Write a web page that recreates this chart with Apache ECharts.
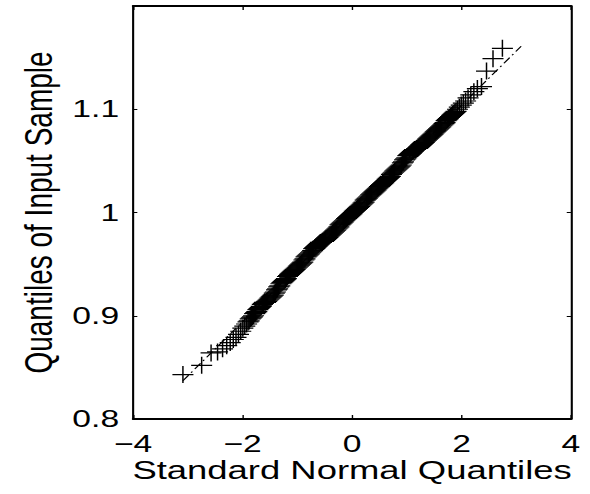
<!DOCTYPE html>
<html><head><meta charset="utf-8">
<script src="https://cdn.jsdelivr.net/npm/echarts@6/dist/echarts.min.js"></script>
<style>
html,body{margin:0;padding:0;background:#fff;overflow:hidden;}
#wrap{width:590px;height:494px;overflow:hidden;position:relative;background:#fff;}
#chart{width:421px;height:494px;transform:scaleX(1.40143);transform-origin:0 0;}
</style></head><body>
<div id="wrap"><div id="chart"></div></div>
<script>
// Standard normal quantiles (x) of the sorted sample
const quantX = [
-3.0902,-2.7478,-2.5758,-2.4573,-2.3656,-2.2904,-2.2262,-2.1701,-2.1201,-2.0749,
-2.0335,-1.9954,-1.9600,-1.9268,
-1.90,-1.88,-1.86,-1.84,-1.82,-1.80,-1.78,-1.76,-1.74,-1.72,
-1.70,-1.68,-1.66,-1.64,-1.62,-1.60,-1.58,-1.56,-1.54,-1.52,
-1.50,-1.48,-1.46,-1.44,-1.42,-1.40,-1.38,-1.36,-1.34,-1.32,
-1.30,-1.28,-1.26,-1.24,-1.22,-1.20,-1.18,-1.16,-1.14,-1.12,
-1.10,-1.08,-1.06,-1.04,-1.02,-1.00,-0.98,-0.96,-0.94,-0.92,
-0.90,-0.88,-0.86,-0.84,-0.82,-0.80,-0.78,-0.76,-0.74,-0.72,
-0.70,-0.68,-0.66,-0.64,-0.62,-0.60,-0.58,-0.56,-0.54,-0.52,
-0.50,-0.48,-0.46,-0.44,-0.42,-0.40,-0.38,-0.36,-0.34,-0.32,
-0.30,-0.28,-0.26,-0.24,-0.22,-0.20,-0.18,-0.16,-0.14,-0.12,
-0.10,-0.08,-0.06,-0.04,-0.02,0.00,0.02,0.04,0.06,0.08,
0.10,0.12,0.14,0.16,0.18,0.20,0.22,0.24,0.26,0.28,
0.30,0.32,0.34,0.36,0.38,0.40,0.42,0.44,0.46,0.48,
0.50,0.52,0.54,0.56,0.58,0.60,0.62,0.64,0.66,0.68,
0.70,0.72,0.74,0.76,0.78,0.80,0.82,0.84,0.86,0.88,
0.90,0.92,0.94,0.96,0.98,1.00,1.02,1.04,1.06,1.08,
1.10,1.12,1.14,1.16,1.18,1.20,1.22,1.24,1.26,1.28,
1.30,1.32,1.34,1.36,1.38,1.40,1.42,1.44,1.46,1.48,
1.50,1.52,1.54,1.56,1.58,1.60,1.62,1.64,1.66,1.68,
1.70,1.72,1.74,1.76,1.78,1.80,1.82,1.84,1.86,1.88,
1.90,
1.9268,1.9600,1.9954,2.0335,2.0749,2.1201,2.1701,2.2262,2.2904,2.3656,
2.4573,2.5758,2.7478
];
// Quantiles of the input sample (y)
const sampleY = [
0.843,0.852,0.864,0.865,0.868,0.871,0.874,0.877,0.879,0.882,
0.885,0.888,0.890,0.892,
0.894,0.895,0.897,0.898,0.899,0.900,0.902,0.903,0.904,0.906,
0.907,0.908,0.909,0.911,0.912,0.913,0.913,0.914,0.915,0.916,
0.917,0.918,0.919,0.920,0.922,0.923,0.925,0.926,0.928,0.929,
0.931,0.932,0.933,0.934,0.935,0.936,0.938,0.939,0.940,0.941,
0.942,0.943,0.944,0.945,0.946,0.947,0.948,0.949,0.950,0.951,
0.952,0.954,0.955,0.957,0.958,0.959,0.960,0.961,0.962,0.963,
0.965,0.966,0.967,0.968,0.969,0.970,0.971,0.971,0.972,0.972,
0.973,0.974,0.975,0.976,0.977,0.978,0.979,0.980,0.981,0.982,
0.983,0.984,0.985,0.986,0.988,0.989,0.990,0.991,0.992,0.993,
0.994,0.995,0.996,0.997,0.998,0.999,1.000,1.001,1.002,1.003,
1.004,1.005,1.006,1.007,1.008,1.009,1.010,1.012,1.013,1.014,
1.015,1.016,1.017,1.018,1.019,1.020,1.021,1.022,1.023,1.024,
1.025,1.026,1.027,1.028,1.029,1.030,1.031,1.032,1.033,1.034,
1.035,1.037,1.038,1.039,1.040,1.041,1.042,1.043,1.044,1.045,
1.046,1.048,1.049,1.051,1.052,1.053,1.055,1.056,1.057,1.058,
1.059,1.060,1.061,1.061,1.062,1.062,1.063,1.064,1.065,1.066,
1.067,1.068,1.069,1.070,1.071,1.072,1.073,1.074,1.075,1.076,
1.077,1.078,1.079,1.080,1.081,1.082,1.083,1.084,1.085,1.086,
1.087,1.089,1.090,1.091,1.092,1.093,1.094,1.095,1.096,1.097,
1.098,
1.100,1.102,1.104,1.106,1.108,1.111,1.114,1.117,1.120,1.122,
1.137,1.149,1.159
];
// Reference line end points
const refX = [-3.0902, 3.0902];
const refY = [0.837, 1.161];
// Tick values and labels
const xTickValues = [-4, -2, 0, 2, 4];
const xTickLabels = ['\u22124', '\u22122', '0', '2', '4'];
const yTickValues = [0.8, 0.9, 1.0, 1.1];
const yTickLabels = ['0.8', '0.9', '1', '1.1'];

const FONT = "'Liberation Sans', Arial, Helvetica, sans-serif";
function labelFor(values, labels) {
  return function (v) {
    for (let i = 0; i < values.length; i++) {
      if (Math.abs(values[i] - v) < 1e-6) return labels[i];
    }
    return '';
  };
}
const cross = 'path://M0,9.3h20v1.4h-20z M9.3,0h1.4v20h-1.4z';

const chart = echarts.init(document.getElementById('chart'), null, {renderer: 'svg'});
const axisLineX = {show: true, onZero: false, lineStyle: {color: '#000', width: 2}};
const axisLineY = {show: true, onZero: false, lineStyle: {color: '#000', width: 1.5}};
chart.setOption({
  animation: false,
  backgroundColor: '#fff',
  grid: {left: 95, right: 13.6, top: 6, bottom: 75, containLabel: false, outerBoundsMode: 'none'},
  xAxis: [{
    type: 'value', position: 'bottom', min: -4, max: 4, interval: 2,
    axisLine: axisLineX,
    axisTick: {show: true, inside: true, length: 4, lineStyle: {color: '#000', width: 1}},
    axisLabel: {formatter: labelFor(xTickValues, xTickLabels), fontSize: 24, margin: 13, color: '#000', fontFamily: FONT},
    splitLine: {show: false},
    name: 'Standard Normal Quantiles', nameLocation: 'middle', nameGap: 38, nameMoveOverlap: false,
    nameTextStyle: {fontSize: 26, color: '#000', fontFamily: FONT}
  }, {
    type: 'value', position: 'top', min: -4, max: 4, interval: 2,
    axisLine: axisLineX,
    axisTick: {show: true, inside: true, length: 4, lineStyle: {color: '#000', width: 1}},
    axisLabel: {show: false}, splitLine: {show: false}
  }],
  yAxis: [{
    type: 'value', position: 'left', min: 0.8, max: 1.2, interval: 0.1,
    axisLine: axisLineY,
    axisTick: {show: true, inside: true, length: 3, lineStyle: {color: '#000', width: 1}},
    axisLabel: {formatter: labelFor(yTickValues, yTickLabels), fontSize: 24, margin: 10, color: '#000', fontFamily: FONT},
    splitLine: {show: false},
    name: 'Quantiles of Input Sample', nameLocation: 'middle', nameGap: 54, nameMoveOverlap: false,
    nameTextStyle: {fontSize: 28, color: '#000', fontFamily: FONT}
  }, {
    type: 'value', position: 'right', min: 0.8, max: 1.2, interval: 0.1,
    axisLine: axisLineY,
    axisTick: {show: true, inside: true, length: 3, lineStyle: {color: '#000', width: 1}},
    axisLabel: {show: false}, splitLine: {show: false}
  }],
  series: [{
    type: 'scatter', xAxisIndex: 0, yAxisIndex: 0,
    data: quantX.map((x, i) => [x, sampleY[i]]),
    symbol: cross, symbolSize: [15, 17],
    itemStyle: {color: '#000', opacity: 1},
    silent: true
  }, {
    type: 'line', xAxisIndex: 0, yAxisIndex: 0,
    data: refX.map((x, i) => [x, refY[i]]),
    symbol: 'none', silent: true,
    lineStyle: {color: '#000', width: 1, type: [7, 3, 1.5, 3]}
  }]
});
</script>
</body></html>
